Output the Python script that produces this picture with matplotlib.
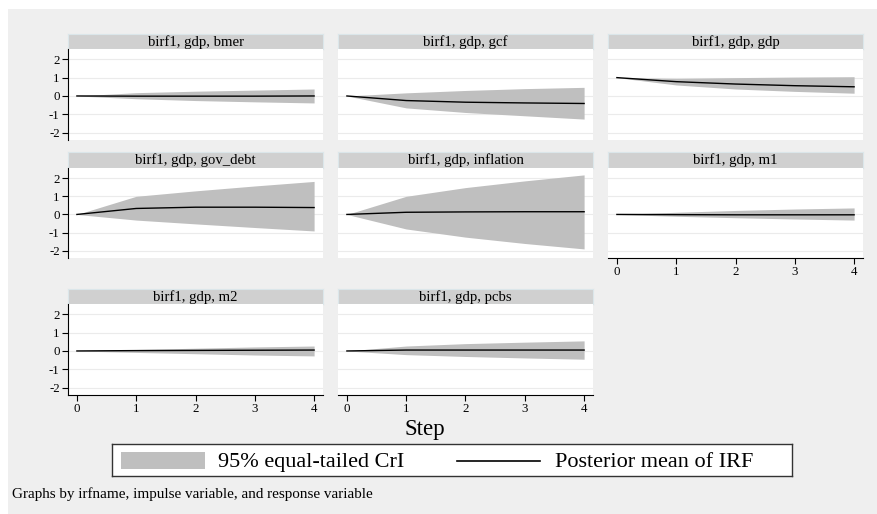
import matplotlib
matplotlib.use("Agg")
import matplotlib.pyplot as plt
from matplotlib.patches import Rectangle

plt.rcParams["font.family"] = ["Liberation Serif", "DejaVu Serif"]

W, H = 877, 514

steps = [0, 1, 2, 3, 4]
titles = ["birf1, gdp, bmer", "birf1, gdp, gcf", "birf1, gdp, gdp",
          "birf1, gdp, gov_debt", "birf1, gdp, inflation", "birf1, gdp, m1",
          "birf1, gdp, m2", "birf1, gdp, pcbs"]

# posterior mean and 95% band per response
mean = {
    "bmer": [0, -0.01, -0.01, -0.01, 0.0],
    "gcf": [0, -0.25, -0.34, -0.38, -0.41],
    "gdp": [1, 0.78, 0.65, 0.56, 0.50],
    "gov_debt": [0, 0.33, 0.40, 0.40, 0.38],
    "inflation": [0, 0.12, 0.14, 0.15, 0.15],
    "m1": [0, -0.01, -0.02, -0.02, -0.02],
    "m2": [0, 0.02, 0.03, 0.04, 0.05],
    "pcbs": [0, 0.05, 0.05, 0.05, 0.05],
}
lower = {
    "bmer": [0, -0.15, -0.25, -0.32, -0.38],
    "gcf": [0, -0.65, -0.90, -1.08, -1.26],
    "gdp": [1, 0.60, 0.38, 0.25, 0.15],
    "gov_debt": [0, -0.31, -0.52, -0.72, -0.91],
    "inflation": [0, -0.80, -1.25, -1.60, -1.90],
    "m1": [0, -0.10, -0.18, -0.25, -0.31],
    "m2": [0, -0.08, -0.15, -0.22, -0.27],
    "pcbs": [0, -0.20, -0.30, -0.38, -0.45],
}
upper = {
    "bmer": [0, 0.18, 0.26, 0.32, 0.38],
    "gcf": [0, 0.17, 0.30, 0.40, 0.47],
    "gdp": [1, 0.96, 1.00, 1.03, 1.05],
    "gov_debt": [0, 1.00, 1.30, 1.57, 1.82],
    "inflation": [0, 1.00, 1.48, 1.85, 2.18],
    "m1": [0, 0.12, 0.22, 0.30, 0.36],
    "m2": [0, 0.08, 0.15, 0.22, 0.27],
    "pcbs": [0, 0.27, 0.40, 0.48, 0.55],
}
yticks = [-2, -1, 0, 1, 2]
legend_labels = ["95% equal-tailed CrI", "Posterior mean of IRF"]

band_col = "#bfbfbf"
bg_col = "#efefef"


def fbox(x0, y0, x1, y1):
    # pixel box (top-left origin) -> figure rect
    return [x0 / W, 1 - y1 / H, (x1 - x0) / W, (y1 - y0) / H]


fig = plt.figure(figsize=(W / 100, H / 100), dpi=100)
fig.patch.set_facecolor("white")
fig.patches.append(Rectangle((8 / W, 0), 1, 1 - 9 / H, transform=fig.transFigure,
                             facecolor=bg_col, edgecolor="none", zorder=-10))

cols = [(68, 323), (338, 593), (608, 863)]
rows = [(34, 49, 140), (152, 168, 258), (289, 304, 395)]

for i, title in enumerate(titles):
    r, c = divmod(i, 3)
    x0, x1 = cols[c]
    hy0, py0, py1 = rows[r]
    key = title.split(", ")[-1]

    hax = fig.add_axes(fbox(x0, hy0, x1, py0))
    hax.set_facecolor("#d0d0d0")
    hax.set_xticks([])
    hax.set_yticks([])
    for s in hax.spines.values():
        s.set_color("#dbe6ea")
        s.set_linewidth(0.8)
    hax.text(0.5, 0.47, title, ha="center", va="center", fontsize=10.6, transform=hax.transAxes)

    ax = fig.add_axes(fbox(x0, py0, x1, py1))
    ax.set_facecolor("white")
    ax.fill_between(steps, lower[key], upper[key], color=band_col, lw=0)
    ax.plot(steps, mean[key], color="black", lw=1)
    ax.set_xlim(-0.15, 4.15)
    ax.set_ylim(-2.4, 2.56)
    ax.set_yticks(yticks)
    ax.set_xticks(steps)
    ax.grid(axis="y", color="#ebebeb", lw=0.8)
    ax.set_axisbelow(True)
    for s in ax.spines.values():
        s.set_visible(False)

    bottom = (r == 2) or (r == 1 and c == 2)
    left = (c == 0)
    ax.tick_params(axis="both", labelsize=9.3, length=4, width=0.8, color="black", pad=2)
    if left:
        ax.spines["left"].set_visible(True)
        ax.spines["left"].set_color("black")
    else:
        ax.tick_params(axis="y", left=False, labelleft=False)
    if bottom:
        ax.spines["bottom"].set_visible(True)
        ax.spines["bottom"].set_color("black")
    else:
        ax.tick_params(axis="x", bottom=False, labelbottom=False)
    ax.set_yticklabels([str(t) for t in yticks])

fig.text(425 / W, 1 - 430 / H, "Step", ha="center", va="center", fontsize=16.5)

# legend box, Stata style: two equal-width columns
lax = fig.add_axes(fbox(112, 444, 792, 476))
lax.set_xlim(112, 792)
lax.set_ylim(476, 444)
lax.set_facecolor("white")
lax.set_xticks([])
lax.set_yticks([])
for s in lax.spines.values():
    s.set_color("#333333")
    s.set_linewidth(1.0)
lax.add_patch(Rectangle((121, 452), 84, 17, facecolor=band_col, edgecolor="none"))
lax.plot([457, 540], [460.5, 460.5], color="black", lw=1.2)
lax.text(218, 462.5, legend_labels[0], ha="left", va="center", fontsize=16)
lax.text(555, 462.5, legend_labels[1], ha="left", va="center", fontsize=16)

fig.text(12 / W, 1 - 494 / H, "Graphs by irfname, impulse variable, and response variable",
         ha="left", va="center", fontsize=10.9)

fig.savefig("out.png", dpi=100)
